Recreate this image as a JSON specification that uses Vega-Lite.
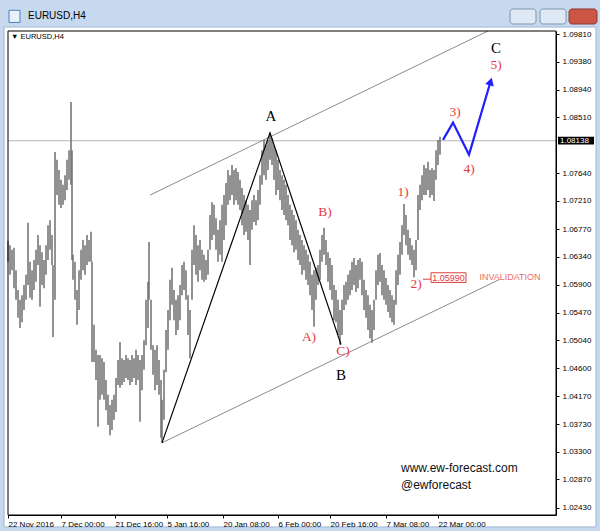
{
 "$schema": "https://vega.github.io/schema/vega-lite/v6.json",
 "width": 548, "height": 484,
 "autosize": {"type": "none"},
 "padding": {"left": 8, "top": 31, "right": 44, "bottom": 16},
 "background": "#c6d9ef",
 "config": {"view": {"stroke": null}, "font": "Liberation Sans", "axis": {"labelOverlap": false}},
 "data": {"values": [{}]},
 "datasets": {
  "bars": [
   {"t":0,"h":1.0659,"l":1.0626},{"t":2,"h":1.0652,"l":1.0606},{"t":4,"h":1.0645,"l":1.0613},{"t":6,"h":1.0648,"l":1.0585},
   {"t":8,"h":1.0613,"l":1.0567},{"t":10,"h":1.0582,"l":1.0539},{"t":12,"h":1.0567,"l":1.0523},{"t":14,"h":1.0574,"l":1.0532},
   {"t":16,"h":1.0590,"l":1.0551},{"t":18,"h":1.0606,"l":1.0567},{"t":20,"h":1.0687,"l":1.0590},{"t":22,"h":1.0626,"l":1.0570},
   {"t":24,"h":1.0613,"l":1.0567},{"t":26,"h":1.0629,"l":1.0582},{"t":28,"h":1.0645,"l":1.0595},{"t":30,"h":1.0668,"l":1.0621},
   {"t":32,"h":1.0652,"l":1.0556},{"t":34,"h":1.0641,"l":1.0590},{"t":36,"h":1.0629,"l":1.0585},{"t":38,"h":1.0652,"l":1.0606},
   {"t":40,"h":1.0683,"l":1.0629},{"t":42,"h":1.0691,"l":1.0645},{"t":44,"h":1.0668,"l":1.0621},{"t":45,"h":1.0621,"l":1.0509},
   {"t":47,"h":1.0797,"l":1.0567},{"t":49,"h":1.0785,"l":1.0730},{"t":51,"h":1.0769,"l":1.0715},{"t":53,"h":1.0754,"l":1.0710},
   {"t":55,"h":1.0746,"l":1.0715},{"t":57,"h":1.0761,"l":1.0722},{"t":59,"h":1.0785,"l":1.0738},{"t":61,"h":1.0800,"l":1.0754},
   {"t":63,"h":1.0875,"l":1.0746},{"t":64,"h":1.0800,"l":1.0629},{"t":65,"h":1.0637,"l":1.0598},{"t":67,"h":1.0626,"l":1.0567},
   {"t":69,"h":1.0582,"l":1.0528},{"t":71,"h":1.0613,"l":1.0551},{"t":73,"h":1.0645,"l":1.0598},{"t":75,"h":1.0660,"l":1.0613},
   {"t":77,"h":1.0652,"l":1.0606},{"t":79,"h":1.0668,"l":1.0621},{"t":81,"h":1.0660,"l":1.0626},{"t":83,"h":1.0673,"l":1.0626},
   {"t":84,"h":1.0626,"l":1.0470},{"t":86,"h":1.0528,"l":1.0470},{"t":88,"h":1.0489,"l":1.0442},{"t":90,"h":1.0481,"l":1.0369},
   {"t":92,"h":1.0481,"l":1.0411},{"t":94,"h":1.0476,"l":1.0419},{"t":96,"h":1.0470,"l":1.0411},{"t":98,"h":1.0442,"l":1.0395},
   {"t":100,"h":1.0419,"l":1.0372},{"t":102,"h":1.0403,"l":1.0356},{"t":104,"h":1.0411,"l":1.0364},{"t":106,"h":1.0419,"l":1.0380},
   {"t":108,"h":1.0445,"l":1.0392},
   {"t":110,"h":1.0473,"l":1.0434},{"t":112,"h":1.0501,"l":1.0430},{"t":114,"h":1.0476,"l":1.0434},{"t":116,"h":1.0473,"l":1.0439},
   {"t":118,"h":1.0481,"l":1.0445},{"t":120,"h":1.0476,"l":1.0442},{"t":122,"h":1.0473,"l":1.0434},{"t":124,"h":1.0481,"l":1.0439},
   {"t":126,"h":1.0476,"l":1.0445},{"t":128,"h":1.0489,"l":1.0434},{"t":130,"h":1.0481,"l":1.0442},{"t":132,"h":1.0473,"l":1.0377},
   {"t":134,"h":1.0481,"l":1.0426},{"t":136,"h":1.0504,"l":1.0458},{"t":138,"h":1.0567,"l":1.0496},{"t":140,"h":1.0595,"l":1.0523},
   {"t":141,"h":1.0657,"l":1.0567},{"t":143,"h":1.0567,"l":1.0489},{"t":145,"h":1.0496,"l":1.0450},{"t":147,"h":1.0489,"l":1.0426},
   {"t":149,"h":1.0496,"l":1.0434},{"t":151,"h":1.0473,"l":1.0419},{"t":153,"h":1.0442,"l":1.0352},{"t":154,"h":1.0411,"l":1.0344},
   {"t":156,"h":1.0458,"l":1.0380},{"t":158,"h":1.0520,"l":1.0454},{"t":160,"h":1.0551,"l":1.0489},{"t":162,"h":1.0598,"l":1.0535},
   {"t":164,"h":1.0617,"l":1.0559},{"t":166,"h":1.0582,"l":1.0535},{"t":168,"h":1.0567,"l":1.0512},{"t":170,"h":1.0574,"l":1.0520},
   {"t":172,"h":1.0590,"l":1.0535},{"t":174,"h":1.0621,"l":1.0574},{"t":176,"h":1.0626,"l":1.0582},{"t":178,"h":1.0613,"l":1.0567},
   {"t":180,"h":1.0574,"l":1.0512},{"t":182,"h":1.0551,"l":1.0476},{"t":184,"h":1.0645,"l":1.0567},{"t":186,"h":1.0683,"l":1.0621},
   {"t":188,"h":1.0668,"l":1.0606},{"t":190,"h":1.0652,"l":1.0595},{"t":192,"h":1.0660,"l":1.0613},{"t":194,"h":1.0645,"l":1.0598},
   {"t":196,"h":1.0637,"l":1.0595},{"t":198,"h":1.0629,"l":1.0598},{"t":200,"h":1.0645,"l":1.0606},{"t":202,"h":1.0699,"l":1.0645},
   {"t":204,"h":1.0719,"l":1.0660},{"t":206,"h":1.0715,"l":1.0668},{"t":208,"h":1.0694,"l":1.0645},{"t":210,"h":1.0676,"l":1.0626},
   {"t":212,"h":1.0691,"l":1.0637},{"t":214,"h":1.0715,"l":1.0626},{"t":216,"h":1.0730,"l":1.0660},{"t":218,"h":1.0749,"l":1.0683},
   {"t":220,"h":1.0769,"l":1.0715},
   {"t":222,"h":1.0761,"l":1.0722},{"t":224,"h":1.0777,"l":1.0730},{"t":226,"h":1.0769,"l":1.0715},{"t":228,"h":1.0772,"l":1.0722},
   {"t":230,"h":1.0766,"l":1.0715},{"t":232,"h":1.0754,"l":1.0707},{"t":234,"h":1.0741,"l":1.0683},{"t":236,"h":1.0730,"l":1.0668},
   {"t":238,"h":1.0722,"l":1.0673},{"t":240,"h":1.0715,"l":1.0660},{"t":242,"h":1.0707,"l":1.0621},{"t":244,"h":1.0722,"l":1.0676},
   {"t":246,"h":1.0730,"l":1.0688},{"t":248,"h":1.0722,"l":1.0683},{"t":250,"h":1.0738,"l":1.0691},{"t":252,"h":1.0761,"l":1.0715},
   {"t":254,"h":1.0800,"l":1.0746},{"t":256,"h":1.0816,"l":1.0761},{"t":258,"h":1.0808,"l":1.0754},{"t":260,"h":1.0816,"l":1.0769},
   {"t":262,"h":1.0827,"l":1.0785},{"t":264,"h":1.0819,"l":1.0777},{"t":266,"h":1.0808,"l":1.0754},{"t":268,"h":1.0800,"l":1.0730},
   {"t":270,"h":1.0785,"l":1.0738},{"t":272,"h":1.0769,"l":1.0722},{"t":274,"h":1.0761,"l":1.0707},{"t":276,"h":1.0754,"l":1.0699},
   {"t":278,"h":1.0746,"l":1.0691},{"t":280,"h":1.0730,"l":1.0683},{"t":282,"h":1.0715,"l":1.0660},{"t":284,"h":1.0707,"l":1.0652},
   {"t":286,"h":1.0699,"l":1.0641},{"t":288,"h":1.0691,"l":1.0645},{"t":290,"h":1.0676,"l":1.0629},{"t":292,"h":1.0668,"l":1.0621},
   {"t":294,"h":1.0660,"l":1.0606},{"t":296,"h":1.0652,"l":1.0613},{"t":298,"h":1.0645,"l":1.0598},{"t":300,"h":1.0637,"l":1.0590},
   {"t":302,"h":1.0626,"l":1.0574},{"t":304,"h":1.0606,"l":1.0551},{"t":306,"h":1.0613,"l":1.0525},{"t":308,"h":1.0617,"l":1.0567},
   {"t":310,"h":1.0621,"l":1.0590},{"t":312,"h":1.0645,"l":1.0598},{"t":314,"h":1.0668,"l":1.0626},{"t":316,"h":1.0679,"l":1.0637},
   {"t":318,"h":1.0660,"l":1.0621},{"t":320,"h":1.0641,"l":1.0595},{"t":322,"h":1.0632,"l":1.0582},{"t":324,"h":1.0621,"l":1.0567},
   {"t":326,"h":1.0590,"l":1.0535},{"t":328,"h":1.0582,"l":1.0532},{"t":330,"h":1.0567,"l":1.0512},
   {"t":332,"h":1.0551,"l":1.0497},{"t":334,"h":1.0567,"l":1.0512},{"t":336,"h":1.0590,"l":1.0551},{"t":338,"h":1.0595,"l":1.0559},
   {"t":340,"h":1.0606,"l":1.0567},{"t":342,"h":1.0613,"l":1.0574},{"t":344,"h":1.0626,"l":1.0582},{"t":346,"h":1.0632,"l":1.0590},
   {"t":348,"h":1.0621,"l":1.0579},{"t":350,"h":1.0629,"l":1.0585},{"t":352,"h":1.0632,"l":1.0598},{"t":354,"h":1.0626,"l":1.0574},
   {"t":356,"h":1.0598,"l":1.0551},{"t":358,"h":1.0582,"l":1.0539},{"t":360,"h":1.0574,"l":1.0520},{"t":362,"h":1.0559,"l":1.0507},
   {"t":364,"h":1.0551,"l":1.0500},{"t":366,"h":1.0567,"l":1.0520},{"t":368,"h":1.0613,"l":1.0567},{"t":370,"h":1.0637,"l":1.0590},
   {"t":372,"h":1.0640,"l":1.0595},{"t":374,"h":1.0621,"l":1.0574},{"t":376,"h":1.0613,"l":1.0567},{"t":378,"h":1.0601,"l":1.0559},
   {"t":380,"h":1.0590,"l":1.0548},{"t":382,"h":1.0582,"l":1.0539},{"t":384,"h":1.0574,"l":1.0532},{"t":386,"h":1.0567,"l":1.0528},
   {"t":388,"h":1.0613,"l":1.0559},{"t":390,"h":1.0637,"l":1.0590},{"t":392,"h":1.0657,"l":1.0606},{"t":394,"h":1.0683,"l":1.0637},
   {"t":396,"h":1.0716,"l":1.0668},{"t":398,"h":1.0699,"l":1.0652},{"t":400,"h":1.0676,"l":1.0637},{"t":402,"h":1.0663,"l":1.0629},
   {"t":404,"h":1.0652,"l":1.0621},{"t":406,"h":1.0645,"l":1.0602},{"t":408,"h":1.0660,"l":1.0613},{"t":410,"h":1.0730,"l":1.0660},
   {"t":412,"h":1.0746,"l":1.0707},{"t":414,"h":1.0761,"l":1.0722},{"t":416,"h":1.0777,"l":1.0730},{"t":418,"h":1.0772,"l":1.0730},
   {"t":420,"h":1.0782,"l":1.0738},{"t":422,"h":1.0769,"l":1.0726},{"t":424,"h":1.0772,"l":1.0730},{"t":426,"h":1.0769,"l":1.0721},
   {"t":428,"h":1.0800,"l":1.0754},{"t":430,"h":1.0816,"l":1.0777},{"t":432,"h":1.0821,"l":1.0793}
  ],
  "channel": [
   {"id":"upper","t":142,"p":1.0730},{"id":"upper","t":480,"p":1.09857},
   {"id":"lower","t":154,"p":1.0344},{"id":"lower","t":492,"p":1.0599}
  ],
  "wave": [
   {"t":154,"p":1.0344},{"t":262,"p":1.0827},{"t":333,"p":1.0497}
  ],
  "projection": [
   {"t":435,"p":1.0816},{"t":445,"p":1.0843},{"t":461,"p":1.0793},{"t":482.6,"p":1.0907}
  ],
  "labels": [
   {"kind":"wave","t":263,"p":1.0853,"txt":"A"},
   {"kind":"wave","t":333,"p":1.0450,"txt":"B"},
   {"kind":"wave","t":488,"p":1.0959,"txt":"C"},
   {"kind":"sub","t":317,"p":1.0704,"txt":"B)"},
   {"kind":"sub","t":301,"p":1.0509,"txt":"A)"},
   {"kind":"sub","t":335,"p":1.0487,"txt":"C)"},
   {"kind":"sub","t":395,"p":1.0735,"txt":"1)"},
   {"kind":"sub","t":408,"p":1.0592,"txt":"2)"},
   {"kind":"sub","t":447,"p":1.0860,"txt":"3)"},
   {"kind":"sub","t":461,"p":1.0771,"txt":"4)"},
   {"kind":"sub","t":488,"p":1.0933,"txt":"5)"}
  ]
 },
 "layer": [
  {"mark": {"type": "rect", "fill": "white", "stroke": "#9fb6d2", "strokeWidth": 1},
   "encoding": {"x": {"datum": -4}, "x2": {"datum": 588}, "y": {"datum": 1.09919}, "y2": {"datum": 1.0213}}},
  {"mark": {"type": "rule", "color": "#b4b4b4", "strokeWidth": 1},
   "encoding": {"y": {"datum": 1.08147}}},
  {"data": {"name": "channel"},
   "mark": {"type": "line", "color": "#8c8c8c", "strokeWidth": 1},
   "encoding": {"x": {"field": "t", "type": "quantitative"}, "y": {"field": "p", "type": "quantitative"}, "detail": {"field": "id"}}},
  {"data": {"name": "bars"},
   "mark": {"type": "rule", "color": "#6e6e6e", "strokeWidth": 1.5},
   "encoding": {
    "x": {"field": "t", "type": "quantitative",
     "scale": {"domain": [0, 548], "nice": false, "zero": false},
     "axis": {"title": null, "values": [0, 53, 107, 159, 215, 270, 322, 378, 430], "tickCount": 40,
      "labelExpr": "['22 Nov 2016','7 Dec 00:00','21 Dec 16:00','5 Jan 16:00','20 Jan 08:00','6 Feb 00:00','20 Feb 16:00','7 Mar 08:00','22 Mar 00:00'][indexof([0,53,107,159,215,270,322,378,430], datum.value)]",
      "labelAlign": "left", "labelDx": 2, "labelFontSize": 8, "labelColor": "#000", "labelPadding": 2,
      "tickSize": 3, "tickColor": "#000", "domainColor": "#000", "grid": false, "labelFlush": false,
      "labelOverlap": false, "labelBound": false, "zindex": 1, "labelFont": "Liberation Sans"}},
    "y": {"field": "h", "type": "quantitative",
     "scale": {"domain": [1.02316, 1.09857], "nice": false, "zero": false},
     "axis": {"title": null, "orient": "right", "tickCount": 40,
      "values": [1.0981, 1.0938, 1.0894, 1.0851, 1.0764, 1.0721, 1.0677, 1.0634, 1.059, 1.0547, 1.0504, 1.046, 1.0417, 1.0373, 1.033, 1.0287, 1.0243],
      "format": ".5f", "labelFontSize": 8, "labelColor": "#000", "labelPadding": 3,
      "tickSize": 3, "tickColor": "#000", "domainColor": "#000", "grid": false,
      "labelOverlap": false, "labelFlush": false, "zindex": 1, "labelFont": "Liberation Sans"}},
    "y2": {"field": "l"}}},
  {"data": {"name": "wave"},
   "mark": {"type": "line", "color": "#000000", "strokeWidth": 1.2},
   "encoding": {"x": {"field": "t", "type": "quantitative"}, "y": {"field": "p", "type": "quantitative"}}},
  {"data": {"name": "projection"},
   "mark": {"type": "line", "color": "#1f1fff", "strokeWidth": 2.2},
   "encoding": {"x": {"field": "t", "type": "quantitative"}, "y": {"field": "p", "type": "quantitative"}}},
  {"mark": {"type": "point", "shape": "triangle-up", "filled": true, "color": "#1f1fff", "size": 80, "angle": 16.6, "opacity": 1},
   "encoding": {"x": {"datum": 482.6}, "y": {"datum": 1.0907}}},
  {"mark": {"type": "rule", "color": "#e03c3c", "strokeWidth": 1},
   "encoding": {"x": {"datum": 415}, "x2": {"datum": 423}, "y": {"datum": 1.0599}}},
  {"mark": {"type": "rect", "fill": "white", "stroke": "#e03c3c", "strokeWidth": 1},
   "encoding": {"x": {"datum": 423}, "x2": {"datum": 458}, "y": {"datum": 1.0609}, "y2": {"datum": 1.0594}}},
  {"mark": {"type": "text", "text": "1.05990", "color": "#e03c3c", "fontSize": 9, "align": "center", "baseline": "middle"},
   "encoding": {"x": {"datum": 440.5}, "y": {"datum": 1.06013}}},
  {"mark": {"type": "text", "text": "INVALIDATION", "color": "#ee6a6a", "fontSize": 9, "align": "center", "baseline": "middle"},
   "encoding": {"x": {"datum": 502}, "y": {"datum": 1.0603}}},
  {"data": {"name": "labels"},
   "transform": [{"filter": "datum.kind === 'wave'"}],
   "mark": {"type": "text", "font": "Liberation Serif", "fontSize": 15, "color": "#000000", "align": "center", "baseline": "middle"},
   "encoding": {"x": {"field": "t", "type": "quantitative"}, "y": {"field": "p", "type": "quantitative"}, "text": {"field": "txt"}}},
  {"data": {"name": "labels"},
   "transform": [{"filter": "datum.kind === 'sub'"}],
   "mark": {"type": "text", "font": "Liberation Serif", "fontSize": 13.5, "color": "#e8383d", "align": "center", "baseline": "middle"},
   "encoding": {"x": {"field": "t", "type": "quantitative"}, "y": {"field": "p", "type": "quantitative"}, "text": {"field": "txt"}}},
  {"mark": {"type": "text", "text": "www.ew-forecast.com", "fontSize": 12, "color": "#111111", "align": "left", "baseline": "middle"},
   "encoding": {"x": {"datum": 393}, "y": {"datum": 1.0305}}},
  {"mark": {"type": "text", "text": "@ewforecast", "fontSize": 12, "color": "#111111", "align": "left", "baseline": "middle"},
   "encoding": {"x": {"datum": 393}, "y": {"datum": 1.0279}}},
  {"mark": {"type": "rect", "fill": "#000000"},
   "encoding": {"x": {"datum": 550}, "x2": {"datum": 586}, "y": {"datum": 1.0821}, "y2": {"datum": 1.0809}}},
  {"mark": {"type": "text", "text": "1.08138", "fontSize": 8, "color": "#ffffff", "align": "left", "baseline": "middle"},
   "encoding": {"x": {"datum": 552}, "y": {"datum": 1.0815}}},
  {"mark": {"type": "rect", "fill": "transparent", "stroke": "#000000", "strokeWidth": 1},
   "encoding": {"x": {"datum": 0}, "x2": {"datum": 548}, "y": {"datum": 1.09857}, "y2": {"datum": 1.02316}}},
  {"mark": {"type": "text", "text": "EURUSD,H4", "fontSize": 10, "color": "#000000", "align": "left", "baseline": "middle"},
   "encoding": {"x": {"datum": 20}, "y": {"datum": 1.1009}}},
  {"mark": {"type": "text", "text": "▼ EURUSD,H4", "fontSize": 7.5, "color": "#000000", "align": "left", "baseline": "middle"},
   "encoding": {"x": {"datum": 3}, "y": {"datum": 1.0976}}},
  {"mark": {"type": "rect", "fill": "#dfe9f5", "stroke": "#7f93ad", "strokeWidth": 1, "cornerRadius": 3},
   "encoding": {"x": {"datum": 502}, "x2": {"datum": 528}, "y": {"datum": 1.102}, "y2": {"datum": 1.09966}}},
  {"mark": {"type": "rect", "fill": "#dfe9f5", "stroke": "#7f93ad", "strokeWidth": 1, "cornerRadius": 3},
   "encoding": {"x": {"datum": 532}, "x2": {"datum": 558}, "y": {"datum": 1.102}, "y2": {"datum": 1.09966}}},
  {"mark": {"type": "rect", "fill": "#cc5544", "stroke": "#8a3a30", "strokeWidth": 1, "cornerRadius": 3},
   "encoding": {"x": {"datum": 561}, "x2": {"datum": 589}, "y": {"datum": 1.102}, "y2": {"datum": 1.09966}}},
  {"mark": {"type": "rect", "fill": "#e8f0fa", "stroke": "#4f7fbf", "strokeWidth": 1},
   "encoding": {"x": {"datum": 1}, "x2": {"datum": 12}, "y": {"datum": 1.1018}, "y2": {"datum": 1.0999}}}
 ]
}
